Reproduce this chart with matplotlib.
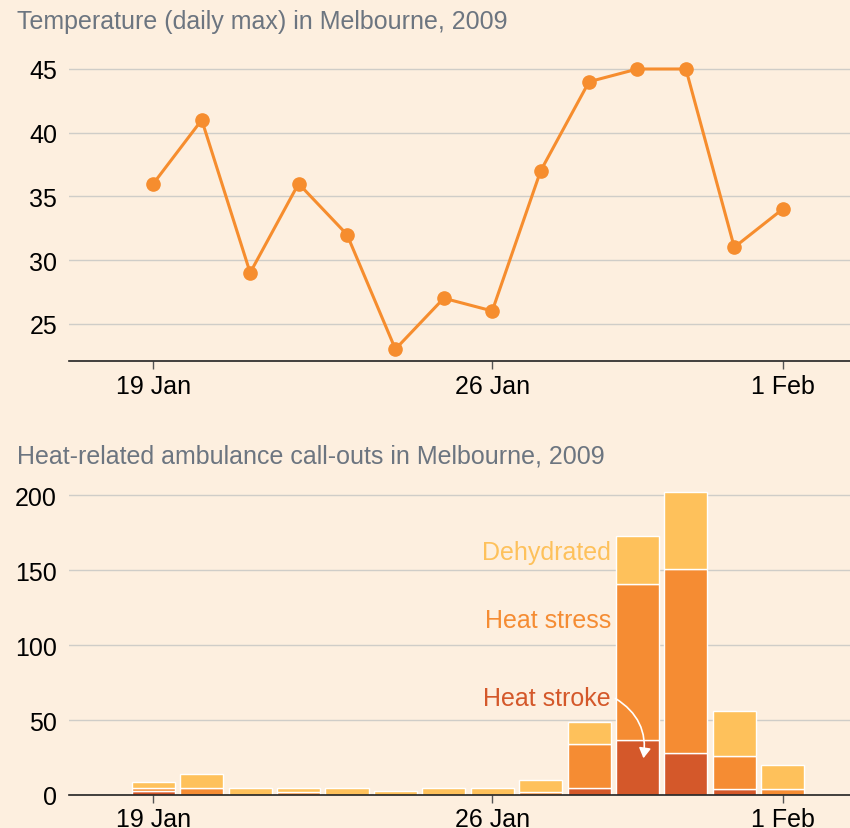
import matplotlib.pyplot as plt
import matplotlib.patches as mpatches
import numpy as np
import pandas as pd

# temperature (daily max) and ambulance call-outs, 19 Jan - 1 Feb 2009
dates = pd.date_range("2009-01-19", "2009-02-01", freq="D")
temp_max = [36, 41, 29, 36, 32, 23, 27, 26, 37, 44, 45, 45, 31, 34]

heat_stroke = [3, 0, 0, 0, 0, 0, 0, 0, 0, 5, 37, 28, 4, 0]
heat_stress = [2, 5, 0, 2, 0, 0, 0, 0, 2, 29, 104, 123, 22, 4]
dehydrated = [4, 9, 5, 3, 5, 3, 5, 5, 8, 15, 32, 51, 30, 16]

tick_dates = pd.to_datetime(["2009-01-19", "2009-01-26", "2009-02-01"])
tick_labels = ["19 Jan", "26 Jan", "1 Feb"]

bg = "#fdefdf"
c_line = "#f68d2e"
c_dehyd = "#fec15b"
c_stress = "#f58c33"
c_stroke = "#d4582a"
c_title = "#6c7580"
c_grid = "#cfcdc8"

plt.rcParams['font.family'] = ['Liberation Sans', 'DejaVu Sans']

fig = plt.figure(figsize=(8.5, 8.29), dpi=100, facecolor=bg)
W, H = 850, 829


def box(l, t, r, b):
    return [l / W, 1 - b / H, (r - l) / W, (b - t) / H]


x = dates
xl = (dates[0] - pd.Timedelta(days=1.742), dates[0] + pd.Timedelta(days=14.39))


def style(ax):
    ax.set_facecolor(bg)
    for s in ["top", "right", "left"]:
        ax.spines[s].set_visible(False)
    ax.spines["bottom"].set_color("#222222")
    ax.spines["bottom"].set_linewidth(1.2)
    ax.grid(axis="y", color=c_grid, lw=1.0)
    ax.set_axisbelow(True)
    ax.tick_params(axis="y", length=0, pad=8.6, labelsize=18)
    ax.tick_params(axis="x", length=6, width=1, color="#555555", pad=3, labelsize=18)
    ax.set_xticks(tick_dates)
    ax.set_xticklabels(tick_labels)
    ax.set_xlim(*xl)


# top chart
ax1 = fig.add_axes(box(69, 50, 850, 362))
style(ax1)
ax1.plot(x, temp_max, color=c_line, lw=2.2, marker="o", ms=9.5, zorder=3)
ax1.set_ylim(22.07, 46.57)
ax1.set_yticks([25, 30, 35, 40, 45])
fig.text(17 / W, 1 - 22 / H, "Temperature (daily max) in Melbourne, 2009",
         color=c_title, fontsize=18, va="center", ha="left")

# bottom chart
ax2 = fig.add_axes(box(69, 485, 850, 796))
style(ax2)
wd = 0.89
bot2 = np.array(heat_stroke) + np.array(heat_stress)
ax2.bar(x, heat_stroke, width=wd, color=c_stroke, edgecolor="white", lw=1, zorder=2)
ax2.bar(x, heat_stress, width=wd, bottom=heat_stroke, color=c_stress,
        edgecolor="white", lw=1, zorder=2)
ax2.bar(x, dehydrated, width=wd, bottom=bot2, color=c_dehyd,
        edgecolor="white", lw=1, zorder=2)
ax2.set_ylim(0, 207.4)
ax2.set_yticks([0, 50, 100, 150, 200])
fig.text(17 / W, 1 - 457 / H, "Heat-related ambulance call-outs in Melbourne, 2009",
         color=c_title, fontsize=18, va="center", ha="left")

lab_x = dates[9] + pd.Timedelta(days=0.45)
ax2.text(lab_x, 162, "Dehydrated", color=c_dehyd, fontsize=18, ha="right", va="center")
ax2.text(lab_x, 116.5, "Heat stress", color=c_stress, fontsize=18, ha="right", va="center")
ax2.text(lab_x, 65, "Heat stroke", color=c_stroke, fontsize=18, ha="right", va="center")
arr = mpatches.FancyArrowPatch((fig.transFigure.inverted().transform((613, H - 698))),
                               (fig.transFigure.inverted().transform((643, H - 762))),
                               transform=fig.transFigure, connectionstyle="arc3,rad=-0.35",
                               arrowstyle="-|>,head_length=6,head_width=3.5",
                               color="white", lw=1.2, zorder=5)
fig.patches.append(arr)

fig.savefig("out.png", dpi=100, facecolor=bg)
